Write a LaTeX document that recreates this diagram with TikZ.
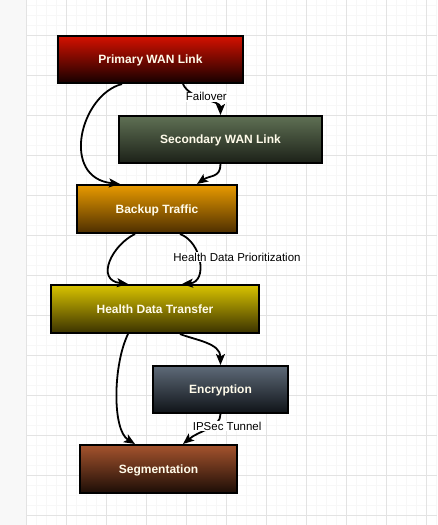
\documentclass[tikz,border=0pt]{standalone}
\usepackage{fontspec}
\setmainfont{Liberation Sans}
\usetikzlibrary{arrows.meta}
\definecolor{gridmaj}{HTML}{E3E3E3}
\definecolor{gridmin}{HTML}{F7F7F7}
\definecolor{strip}{HTML}{F8F8F8}
\definecolor{txtc}{HTML}{FFFBEA}
\definecolor{pTop}{HTML}{D41100}\definecolor{pBot}{HTML}{160000}
\definecolor{sTop}{HTML}{5F7054}\definecolor{sBot}{HTML}{1C2118}
\definecolor{bTop}{HTML}{E89A00}\definecolor{bBot}{HTML}{4D2E00}
\definecolor{hTop}{HTML}{D9C300}\definecolor{hBot}{HTML}{3A3200}
\definecolor{eTop}{HTML}{5E6A78}\definecolor{eBot}{HTML}{0F1318}
\definecolor{gTop}{HTML}{A5532D}\definecolor{gBot}{HTML}{1C0D06}
\tikzset{
  box/.style={draw=black, line width=2pt, rectangle, text=txtc,
    font=\fontsize{12pt}{14pt}\selectfont\bfseries, inner sep=0pt,
    text height=8.6pt, text depth=0pt},
  conn/.style={line width=1.8pt, draw=black, -{Stealth[length=11pt,width=9pt,inset=2.5pt]}},
  lbl/.style={fill=white, text=black, inner sep=1pt,
    font=\fontsize{11.5pt}{13pt}\selectfont}
}
\begin{document}
\begin{tikzpicture}[x=1pt,y=-1pt]
\useasboundingbox (0,0) rectangle (437,525);
% background
\fill[white] (0,0) rectangle (437,525);
\fill[strip] (0,0) rectangle (26.7,525);
\foreach \i in {0,...,41} {\draw[gridmin, line width=0.6pt] (26.7+10*\i,0) -- (26.7+10*\i,525);}
\foreach \j in {0,...,52} {\draw[gridmin, line width=0.6pt] (26.7,5+10*\j) -- (437,5+10*\j);}
\foreach \i in {0,...,10} {\draw[gridmaj, line width=0.8pt] (26.7+40*\i,0) -- (26.7+40*\i,525);}
\foreach \j in {0,...,12} {\draw[gridmaj, line width=0.8pt] (26.7,35+40*\j) -- (437,35+40*\j);}
% nodes
\node[box, top color=pTop, bottom color=pBot, minimum width=185pt, minimum height=47pt] (p) at (150.5,59.5) {Primary WAN Link};
\node[box, top color=sTop, bottom color=sBot, minimum width=203pt, minimum height=47pt] (s) at (220.5,139.5) {Secondary WAN Link};
\node[box, top color=bTop, bottom color=bBot, minimum width=160pt, minimum height=48pt] (b) at (157,209) {Backup Traffic};
\node[box, top color=hTop, bottom color=hBot, minimum width=208pt, minimum height=48pt] (h) at (155,309) {Health Data Transfer};
\node[box, top color=eTop, bottom color=eBot, minimum width=135pt, minimum height=47pt] (e) at (220.5,389.5) {Encryption};
\node[box, top color=gTop, bottom color=gBot, minimum width=157pt, minimum height=48pt] (g) at (158.5,469) {Segmentation};
% connectors
\draw[conn] ([xshift=-28.5pt]p.south) .. controls +(-42,11) and +(-60,-6) .. ([xshift=-37pt]b.north);
\draw[conn] ([xshift=32.5pt]p.south) .. controls +(7,16) and +(0,-15) .. (s.north)
  node[lbl, pos=0.5, xshift=2pt, yshift=3pt] {Failover};
\draw[conn] (s.south) .. controls +(0,14) and +(13,-9) .. ([xshift=40pt]b.north);
\draw[conn] ([xshift=-22pt]b.south) .. controls +(-23,11) and +(-33,-4) .. ([xshift=-27pt]h.north);
\draw[conn] ([xshift=23pt]b.south) .. controls +(22,8) and +(26,-2) .. ([xshift=27pt]h.north)
  node[lbl, pos=0.5, xshift=38pt, yshift=4pt] {Health Data Prioritization};
\draw[conn] ([xshift=25pt]h.south) .. controls +(15,6) and +(0,-22) .. (e.north);
\draw[conn] ([xshift=-27pt]h.south) .. controls +(-15,31) and +(-23,-14) .. ([xshift=-23.5pt]g.north);
\draw[conn] (e.south) .. controls +(0,14) and +(17,-14) .. ([xshift=24.5pt]g.north)
  node[lbl, pos=0.5, xshift=19pt, yshift=3pt] {IPSec Tunnel};
\end{tikzpicture}
\end{document}
